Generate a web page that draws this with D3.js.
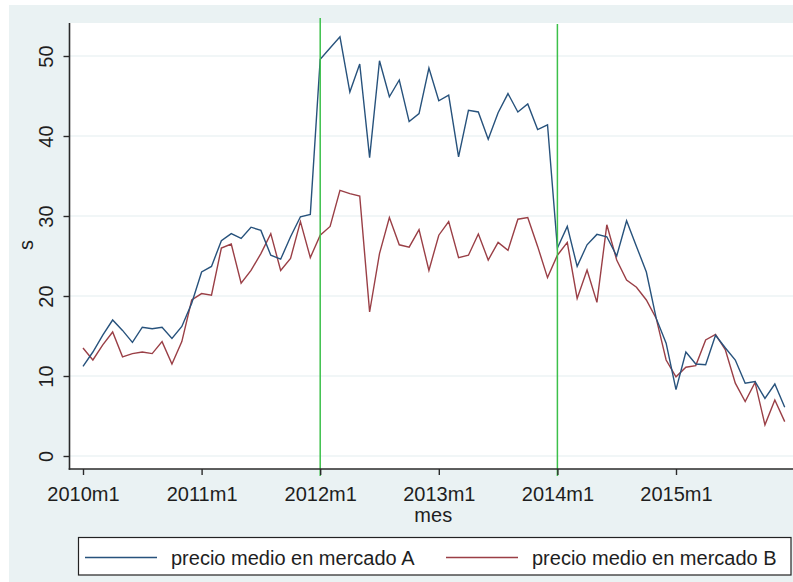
<!DOCTYPE html>
<html>
<head>
<meta charset="utf-8">
<script src="https://cdn.jsdelivr.net/npm/d3@7"></script>
<style>
  html, body { margin: 0; padding: 0; background: #ffffff; }
  svg { display: block; }
  text { font-family: "Liberation Sans", Arial, sans-serif; fill: #1e1e1e; }
</style>
</head>
<body>
<svg id="chart" width="793" height="582"></svg>
<script>
// ---- data (monthly, 2010m1 .. 2015m12) ----
const seriesA = [11.2,13.0,15.1,17.0,15.7,14.2,16.1,15.9,16.1,14.7,16.2,19.1,
                 23.0,23.7,26.9,27.8,27.2,28.6,28.2,25.1,24.6,27.4,29.9,30.2,
                 49.6,51.0,52.4,45.5,49.0,37.3,49.4,44.9,47.0,41.8,42.8,48.5,
                 44.4,45.1,37.4,43.2,43.0,39.6,42.9,45.3,43.0,44.0,40.8,41.4,
                 26.0,28.7,23.7,26.4,27.7,27.4,25.0,29.4,26.2,23.0,17.2,14.1,
                 8.3,13.0,11.5,11.4,15.1,13.5,12.0,9.1,9.3,7.2,9.0,6.1];
const seriesB = [13.5,12.0,13.9,15.5,12.4,12.8,13.0,12.8,14.3,11.5,14.3,19.5,
                 20.3,20.1,26.0,26.5,21.6,23.2,25.3,27.8,23.2,24.7,29.3,24.8,
                 27.6,28.7,33.2,32.8,32.5,18.0,25.3,29.8,26.4,26.1,28.3,23.2,
                 27.6,29.3,24.8,25.1,27.75,24.5,26.7,25.7,29.6,29.8,26.2,22.3,
                 25.1,26.7,19.7,23.25,19.2,28.9,24.5,22.0,21.1,19.5,17.2,12.0,
                 9.9,11.1,11.3,14.5,15.2,13.25,9.1,6.8,9.2,3.9,7.0,4.3];
const seriesNames = ["precio medio en mercado A", "precio medio en mercado B"];
const xTickIndex = [0, 12, 24, 36, 48, 60];
const xTickLabels = ["2010m1", "2011m1", "2012m1", "2013m1", "2014m1", "2015m1"];
const yTicks = [0, 10, 20, 30, 40, 50];
const vLineIndex = [24, 48];
const xTitle = "mes";
const yTitle = "s";

// ---- layout ----
const svg = d3.select("#chart");
const plotL = 69.5, plotR = 800, plotT = 23, plotB = 469;
const colA = "#27527c", colB = "#9a3f46", colG = "#3cc04a";

const x = d3.scaleLinear().domain([0, 60]).range([83, 676]);
const y = d3.scaleLinear().domain([0, 50]).range([456, 56]);

// graph region background
svg.append("rect").attr("x", 9).attr("y", 5).attr("width", 784).attr("height", 577)
   .attr("fill", "#eaf2f3");
// plot region
svg.append("rect").attr("x", plotL).attr("y", plotT).attr("width", plotR - plotL).attr("height", plotB - plotT)
   .attr("fill", "#ffffff");

// gridlines
svg.append("g").selectAll("line").data(yTicks).join("line")
   .attr("x1", plotL).attr("x2", plotR)
   .attr("y1", d => y(d)).attr("y2", d => y(d))
   .attr("stroke", "#e4edf0").attr("stroke-width", 1.2);

// lines
const line = d3.line().x((d, i) => x(i)).y(d => y(d));
svg.append("path").datum(seriesB).attr("d", line)
   .attr("fill", "none").attr("stroke", colB).attr("stroke-width", 1.4).attr("stroke-linejoin", "miter");
svg.append("path").datum(seriesA).attr("d", line)
   .attr("fill", "none").attr("stroke", colA).attr("stroke-width", 1.4).attr("stroke-linejoin", "miter");

// vertical reference lines
svg.append("g").selectAll("line").data(vLineIndex).join("line")
   .attr("x1", d => x(d)).attr("x2", d => x(d))
   .attr("y1", (d, i) => i === 0 ? 18 : 24).attr("y2", 476)
   .attr("stroke", colG).attr("stroke-width", 1.5);

// y axis
const yAxis = svg.append("g").attr("transform", `translate(${plotL},0)`)
   .call(d3.axisLeft(y).tickValues(yTicks).tickSize(6).tickSizeOuter(0));
yAxis.select(".domain").remove();
yAxis.selectAll(".tick line").attr("stroke", "#2a2a2a").attr("stroke-width", 1.4);
yAxis.selectAll(".tick text")
   .attr("x", 0).attr("dy", null).attr("y", 0)
   .attr("transform", "translate(-16.5,0) rotate(-90)")
   .attr("text-anchor", "middle")
   .style("font-size", "20px").style("font-family", "'Liberation Sans', Arial, sans-serif")
   .attr("fill", "#1e1e1e");
svg.append("line").attr("x1", plotL).attr("x2", plotL).attr("y1", plotT).attr("y2", plotB + 0.7)
   .attr("stroke", "#2a2a2a").attr("stroke-width", 1.6);

// x axis
const xAxis = svg.append("g").attr("transform", `translate(0,${plotB})`)
   .call(d3.axisBottom(x).tickValues(xTickIndex).tickFormat((d, i) => xTickLabels[i]).tickSize(6).tickSizeOuter(0));
xAxis.select(".domain").remove();
xAxis.selectAll(".tick line").attr("stroke", "#2a2a2a").attr("stroke-width", 1.4);
xAxis.selectAll(".tick text")
   .attr("y", 31.5).attr("dy", null)
   .style("font-size", "20px").style("font-family", "'Liberation Sans', Arial, sans-serif")
   .attr("fill", "#1e1e1e");
svg.append("line").attr("x1", plotL - 0.8).attr("x2", plotR).attr("y1", plotB).attr("y2", plotB)
   .attr("stroke", "#2a2a2a").attr("stroke-width", 1.6);

// axis titles
svg.append("text").attr("x", (plotL + 797) / 2).attr("y", 522)
   .attr("text-anchor", "middle").style("font-size", "20px").text(xTitle);
svg.append("text").attr("transform", "translate(33,245) rotate(-90)")
   .attr("text-anchor", "middle").style("font-size", "20px").text(yTitle);

// legend
const lg = svg.append("g");
lg.append("rect").attr("x", 78.5).attr("y", 537.5).attr("width", 712.5).attr("height", 37.5)
  .attr("fill", "#ffffff").attr("stroke", "#222").attr("stroke-width", 1.2);
const legendItems = [
  {name: seriesNames[0], color: colA, x0: 85},
  {name: seriesNames[1], color: colB, x0: 446}
];
legendItems.forEach(it => {
  lg.append("line").attr("x1", it.x0).attr("x2", it.x0 + 72).attr("y1", 557.5).attr("y2", 557.5)
    .attr("stroke", it.color).attr("stroke-width", 1.4);
  lg.append("text").attr("x", it.x0 + 86).attr("y", 564.5).style("font-size", "20px").text(it.name);
});
</script>
</body>
</html>
